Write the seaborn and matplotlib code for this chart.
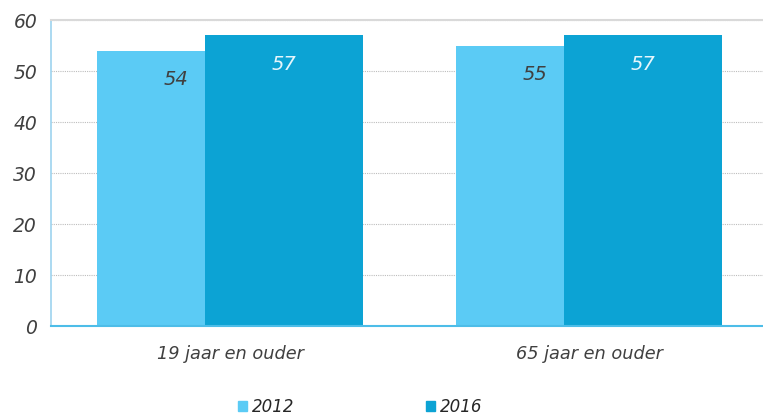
import pandas as pd
import matplotlib.pyplot as plt
import seaborn as sns

# data
categorieen = ['19 jaar en ouder', '65 jaar en ouder']
jaren = ['2012', '2016']
waarden_2012 = [54, 55]
waarden_2016 = [57, 57]

kleuren = {'2012': '#5bcbf5', '2016': '#0ca3d4'}
label_kleuren = {'2012': '#404040', '2016': '#e6f6fc'}

df = pd.DataFrame({
    'groep': categorieen * 2,
    'jaar': ['2012'] * 2 + ['2016'] * 2,
    'waarde': waarden_2012 + waarden_2016,
})

sns.set_style('white')
plt.rcParams['font.family'] = ['DejaVu Sans']

fig = plt.figure(figsize=(7.63, 4.16), dpi=100)
ax = fig.add_axes([0.0668, 0.2163, 0.9332, 0.7356])

sns.barplot(data=df, x='groep', y='waarde', hue='jaar', palette=kleuren,
            width=0.6, dodge=True, saturation=1, ax=ax, legend=False,
            errorbar=None)

# bars overlappen zoals in het origineel
breedte = 0.44
for cont, jaar in zip(ax.containers, jaren):
    for bar in cont:
        midden = bar.get_x() + bar.get_width() / 2
        bar.set_width(breedte)
        bar.set_x(midden - breedte / 2)
        bar.set_linewidth(0)
    ax.bar_label(cont, padding=-28, color=label_kleuren[jaar], fontsize=14,
                 fontstyle='italic')

ax.set_ylim(0, 60)
ax.set_xlim(-0.4986, 1.4846)
ax.set_yticks(range(0, 61, 10))
ax.set_xlabel('')
ax.set_ylabel('')
ax.yaxis.grid(True, linestyle=(0, (1, 1)), color='#bdbdbd', linewidth=0.8)
ax.set_axisbelow(True)

for s in ['left', 'bottom', 'top']:
    ax.spines[s].set_visible(True)
ax.spines['right'].set_visible(False)
ax.spines['top'].set_color('#d9d9d9')
ax.spines['top'].set_linewidth(1.5)
ax.spines['left'].set_color('#9dd3ef')
ax.spines['left'].set_linewidth(1.2)
ax.spines['bottom'].set_color('#4dbde8')
ax.spines['bottom'].set_linewidth(1.5)

ax.tick_params(axis='y', length=0, pad=10, labelsize=13.5, labelcolor='#404040')
ax.tick_params(axis='x', length=0, pad=14, labelsize=12.8, labelcolor='#404040')
for t in ax.get_xticklabels() + ax.get_yticklabels():
    t.set_fontstyle('italic')

handles = [plt.Rectangle((0, 0), 1, 1, color=kleuren[j]) for j in jaren]
fig.legend(handles, jaren, loc='center', bbox_to_anchor=(0.472, 0.022),
           ncol=2, frameon=False, handlelength=0.55, handleheight=0.55,
           handletextpad=0.3, columnspacing=7.9,
           prop={'style': 'italic', 'size': 12})

fig.savefig('out.png', dpi=100)
